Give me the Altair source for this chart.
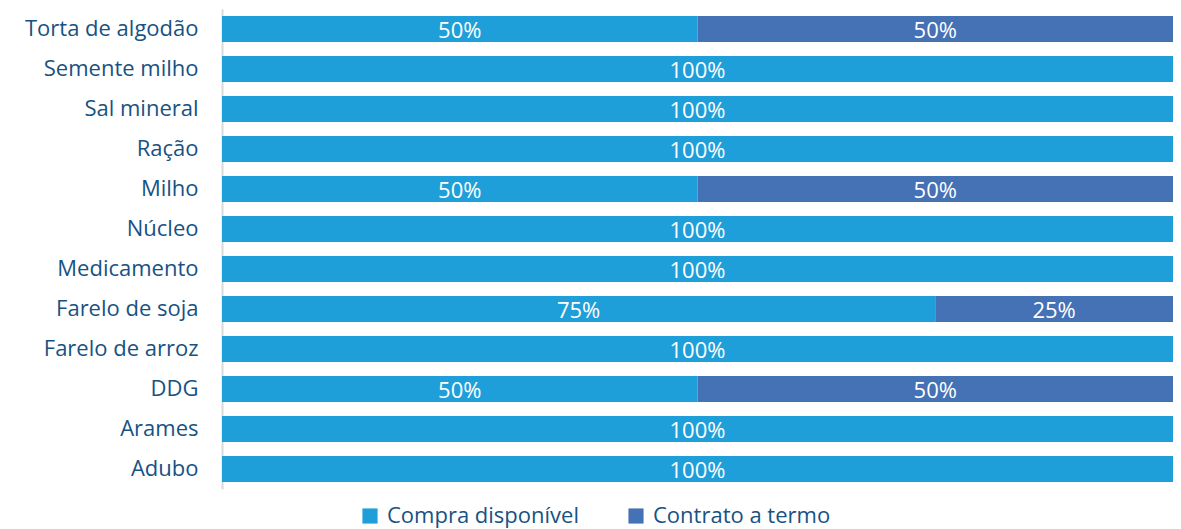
import altair as alt
import pandas as pd

categories = ["Torta de algodão", "Semente milho", "Sal mineral", "Ração", "Milho",
              "Núcleo", "Medicamento", "Farelo de soja", "Farelo de arroz", "DDG",
              "Arames", "Adubo"]
compra = [50, 100, 100, 100, 50, 100, 100, 75, 100, 50, 100, 100]
contrato = [50, 0, 0, 0, 50, 0, 0, 25, 0, 50, 0, 0]
series = ["Compra disponível", "Contrato a termo"]
colors = ["#1f9fd9", "#4571b5"]

rows = []
for i, c in enumerate(categories):
    rows.append({"cat": c, "series": series[0], "ord": 0, "value": compra[i]})
    rows.append({"cat": c, "series": series[1], "ord": 1, "value": contrato[i]})
df = pd.DataFrame(rows)

FONT = "Open Sans"
TXT = "#175283"

base = alt.Chart(df).transform_filter("datum.value > 0").transform_stack(
    stack="value", as_=["x0", "x1"], groupby=["cat"],
    sort=[alt.SortField("ord", order="ascending")]
).transform_calculate(mid="(datum.x0 + datum.x1) / 2",
                      label="datum.value + '%'")

y = alt.Y("cat:N", sort=categories, title=None,
          scale=alt.Scale(paddingInner=0.35, paddingOuter=0.175),
          axis=alt.Axis(ticks=False, domain=True, domainColor="#d9d9d9",
                        domainWidth=2, labelPadding=24, labelFontSize=22,
                        labelFont=FONT, labelColor=TXT, labelLimit=300))

bars = base.mark_bar().encode(
    x=alt.X("x0:Q", scale=alt.Scale(domain=[0, 100], nice=False), axis=None),
    x2="x1:Q",
    y=y,
    color=alt.Color("series:N", scale=alt.Scale(domain=series, range=colors),
                    legend=alt.Legend(title=None, orient="none", direction="horizontal",
                                      legendX=137, legendY=496,
                                      symbolType="square", symbolSize=230,
                                      symbolStrokeWidth=0, symbolOpacity=1,
                                      labelFontSize=22, labelFont=FONT,
                                      labelColor=TXT, columnPadding=46,
                                      labelOffset=6, labelLimit=400)),
)

text = base.mark_text(color="white", fontSize=22, font=FONT, baseline="middle", dy=2).encode(
    x=alt.X("mid:Q", scale=alt.Scale(domain=[0, 100], nice=False), axis=None),
    y=alt.Y("cat:N", sort=categories),
    text="label:N",
)

chart = alt.layer(bars, text).properties(
    width=951, height=480,
    autosize=alt.AutoSizeParams(type="none"),
    padding={"left": 214, "top": 1, "right": 0, "bottom": 40},
).configure_view(stroke=None).configure_axis(grid=False)

chart.save("out.html", embed_options={"renderer": "svg", "actions": False})
